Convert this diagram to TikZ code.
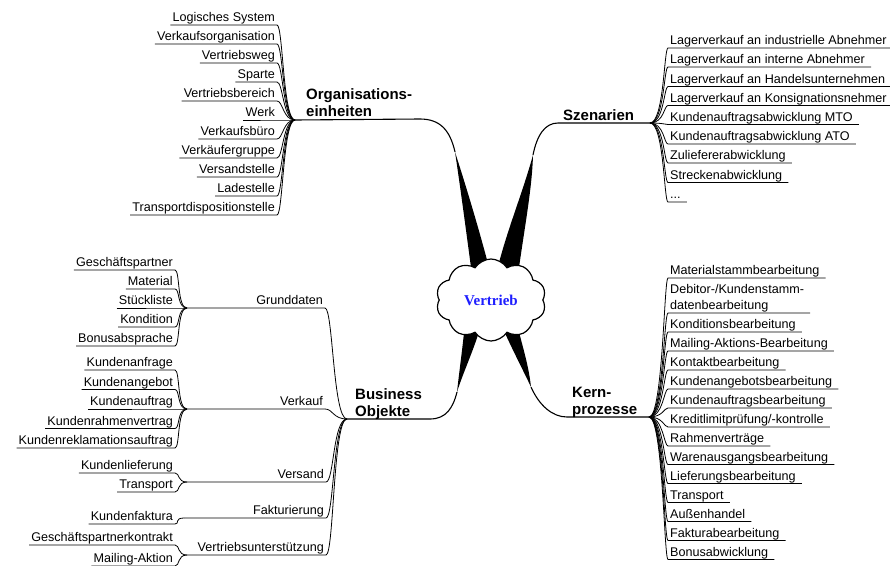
\documentclass[tikz,border=0pt]{standalone}
\usepackage{fontspec}
\setmainfont{Liberation Sans}
\newfontfamily\serifschrift{Liberation Serif}
\usetikzlibrary{shapes.symbols,backgrounds}
\definecolor{vblau}{RGB}{30,30,255}

\begin{document}
\begin{tikzpicture}[x=1pt,y=-1pt]
\useasboundingbox (0,0) rectangle (890,565);
% Linien- und Textstile
\tikzstyle{blatt}=[font=\fontsize{12.6}{16}\selectfont,inner xsep=2pt,inner ysep=0pt,text depth=3pt,align=left]
\tikzstyle{titel}=[font=\bfseries\fontsize{15}{17}\selectfont,inner sep=0pt,text depth=2.5pt,align=left]
\tikzstyle{ast}=[line width=0.8pt]
\tikzstyle{hauptast}=[line width=1.1pt]
\tikzstyle{keil}=[fill=black]
% Blatt links
% #1: Name des Knotens
% #2: rechtes Ende der Linie
% #3: Text
% #4: Verzweigungspunkt
% #5: Ausholen der Kurve
\newcommand{\blattli}[5]{
\node[blatt,anchor=south east] (#1) at #2 {#3};
\draw[ast] (#1.south west) -- (#1.south east)
  .. controls +(#5,0) and +(-2*#5,0) .. (#4);
}
% Blatt rechts
% #1: Name des Knotens
% #2: linkes Ende der Linie
% #3: Text
% #4: Verzweigungspunkt
\newcommand{\blattre}[4]{
\node[blatt,anchor=south west] (#1) at #2 {#3};
\draw[ast] (#4) .. controls +(14,0) and +(-4,0) .. (#1.south west)
  -- ([xshift=4pt]#1.south east);
}
% Zweig unter Business Objekte
% #1: Name des Knotens (Verzweigung: #1fan)
% #2: rechtes Ende der Linie
% #3: Text
% #4: linkes Ende der Linie
% #5: Verzweigungspunkt
\newcommand{\zweig}[5]{
\node[blatt,anchor=south east] (#1) at #2 {#3};
\coordinate (#1fan) at #4;
\draw[ast] (#1fan) -- (#1.south east)
  .. controls +(8,0) and +(-14,0) .. (#5);
}
% Wolke
\node[cloud,cloud puffs=10,cloud puff arc=115,aspect=1.4,draw,fill=white,
  line width=1.2pt,minimum width=110pt,minimum height=82pt,inner sep=0pt,
  font=\serifschrift\bfseries\fontsize{15}{17}\selectfont,text=vblau]
  (vertrieb) at (491,300) {Vertrieb};
% Hauptthemen
\node[titel,anchor=south west] (orga) at (306,119) {Organisations-\\einheiten};
\node[titel,anchor=south west] (szen) at (563,123) {Szenarien};
\node[titel,anchor=south west] (busi) at (355,419) {Business\\Objekte};
\node[titel,anchor=south west] (kern) at (572,417) {Kern-\\prozesse};
% Verzweigungspunkte und Enden
\coordinate (orgafan) at (295,120);
\coordinate (olende) at (420,119);
\coordinate (olspitze) at (455,152);
\coordinate (szenfan) at (650,123);
\coordinate (orende) at (558,123);
\coordinate (orspitze) at (533,155);
\coordinate (bofan) at (347,419);
\coordinate (ulende) at (430,419);
\coordinate (ulspitze) at (457,392);
\coordinate (kernfan) at (649,417);
\coordinate (urende) at (567,417);
\coordinate (urspitze) at (531,387);
% Keile zur Wolke
\begin{pgfonlayer}{background}
\fill[keil] (olspitze) .. controls (460,185) and (466,230) .. (472,275)
  -- (491,275) .. controls (478,225) and (464,180) .. (olspitze) -- cycle;
\fill[keil] (orspitze) .. controls (522,195) and (505,235) .. (496,275)
  -- (518,275) .. controls (524,230) and (532,190) .. (orspitze) -- cycle;
\fill[keil] (ulspitze) .. controls (460,365) and (463,345) .. (465,322)
  -- (482,322) .. controls (474,350) and (464,370) .. (ulspitze) -- cycle;
\fill[keil] (urspitze) .. controls (522,368) and (510,345) .. (500,322)
  -- (517,322) .. controls (520,340) and (528,360) .. (urspitze) -- cycle;
\end{pgfonlayer}
\draw[hauptast] (orgafan) -- (olende) .. controls (440,119) and (450,130) .. (olspitze);
\draw[hauptast] (szenfan) -- (orende) .. controls (545,123) and (537,135) .. (orspitze);
\draw[hauptast] (bofan) -- (ulende) .. controls (446,419) and (453,408) .. (ulspitze);
\draw[hauptast] (kernfan) -- (urende) .. controls (552,417) and (539,405) .. (urspitze);
% Organisationseinheiten
\blattli{logsys}{(277,25)}{Logisches System}{orgafan}{6}
\blattli{vkorg}{(277,44)}{Verkaufsorganisation}{orgafan}{6}
\blattli{vtweg}{(277,63)}{Vertriebsweg}{orgafan}{6}
\blattli{sparte}{(277,82)}{Sparte}{orgafan}{6}
\blattli{vtber}{(277,101)}{Vertriebsbereich}{orgafan}{6}
\blattli{werk}{(277,120)}{Werk}{orgafan}{6}
\blattli{vkbuero}{(277,139)}{Verkaufsbüro}{orgafan}{6}
\blattli{vkgrp}{(277,158)}{Verkäufergruppe}{orgafan}{6}
\blattli{vsstelle}{(277,177)}{Versandstelle}{orgafan}{6}
\blattli{ladest}{(277,196)}{Ladestelle}{orgafan}{6}
\blattli{trdisp}{(277,215)}{Transportdispositionstelle}{orgafan}{6}
% Szenarien
\blattre{lvind}{(668,48)}{Lagerverkauf an industrielle Abnehmer}{szenfan}
\blattre{lvint}{(668,67)}{Lagerverkauf an interne Abnehmer}{szenfan}
\blattre{lvhan}{(668,86.5)}{Lagerverkauf an Handelsunternehmen}{szenfan}
\blattre{lvkon}{(668,105.5)}{Lagerverkauf an Konsignationsnehmer}{szenfan}
\blattre{kamto}{(668,124.5)}{Kundenauftragsabwicklung MTO}{szenfan}
\blattre{kaato}{(668,144)}{Kundenauftragsabwicklung ATO}{szenfan}
\blattre{zulief}{(668,163)}{Zuliefererabwicklung}{szenfan}
\blattre{strecke}{(668,182.5)}{Streckenabwicklung}{szenfan}
\blattre{weitere}{(668,202)}{...}{szenfan}
% Kernprozesse
\blattre{matst}{(668,278)}{Materialstammbearbeitung}{kernfan}
\blattre{debst}{(668,313)}{Debitor-/Kundenstamm-\\datenbearbeitung}{kernfan}
\blattre{kond}{(668,332)}{Konditionsbearbeitung}{kernfan}
\blattre{mailb}{(668,351)}{Mailing-Aktions-Bearbeitung}{kernfan}
\blattre{kontakt}{(668,370)}{Kontaktbearbeitung}{kernfan}
\blattre{kangb}{(668,389)}{Kundenangebotsbearbeitung}{kernfan}
\blattre{kauftb}{(668,408)}{Kundenauftragsbearbeitung}{kernfan}
\blattre{kredit}{(668,427)}{Kreditlimitprüfung/-kontrolle}{kernfan}
\blattre{rahmen}{(668,446)}{Rahmenverträge}{kernfan}
\blattre{waausg}{(668,464.5)}{Warenausgangsbearbeitung}{kernfan}
\blattre{liefb}{(668,483.5)}{Lieferungsbearbeitung}{kernfan}
\blattre{transp}{(668,502.5)}{Transport}{kernfan}
\blattre{aussen}{(668,521.5)}{Außenhandel}{kernfan}
\blattre{faktb}{(668,540.5)}{Fakturabearbeitung}{kernfan}
\blattre{bonus}{(668,559.5)}{Bonusabwicklung}{kernfan}
% Business Objekte
\zweig{grund}{(325,308)}{Grunddaten}{(187,308)}{bofan}
\zweig{verkauf}{(325,409)}{Verkauf}{(187,409)}{bofan}
\zweig{versand}{(326,482)}{Versand}{(187,482)}{bofan}
\zweig{faktur}{(326,518)}{Fakturierung}{(184,518)}{bofan}
\zweig{vtunt}{(326,555)}{Vertriebsunterstützung}{(187,555)}{bofan}
\blattli{gpartner}{(175,270)}{Geschäftspartner}{grundfan}{5}
\blattli{material}{(175,289)}{Material}{grundfan}{5}
\blattli{stueckl}{(175,308)}{Stückliste}{grundfan}{5}
\blattli{kondit}{(175,327)}{Kondition}{grundfan}{5}
\blattli{bonusab}{(175,346)}{Bonusabsprache}{grundfan}{5}
\blattli{kanfr}{(175,370)}{Kundenanfrage}{verkauffan}{5}
\blattli{kangeb}{(175,389.5)}{Kundenangebot}{verkauffan}{5}
\blattli{kauftr}{(175,409)}{Kundenauftrag}{verkauffan}{5}
\blattli{krahmen}{(175,428.5)}{Kundenrahmenvertrag}{verkauffan}{5}
\blattli{kreklam}{(175,448)}{Kundenreklamationsauftrag}{verkauffan}{5}
\blattli{kliefer}{(175,473)}{Kundenlieferung}{versandfan}{5}
\blattli{transpo}{(175,492)}{Transport}{versandfan}{5}
\blattli{kfakt}{(175,524)}{Kundenfaktura}{fakturfan}{5}
\blattli{gpkontr}{(175,545)}{Geschäftspartnerkontrakt}{vtuntfan}{5}
\blattli{mailakt}{(175,566)}{Mailing-Aktion}{vtuntfan}{5}
\end{tikzpicture}
\end{document}
